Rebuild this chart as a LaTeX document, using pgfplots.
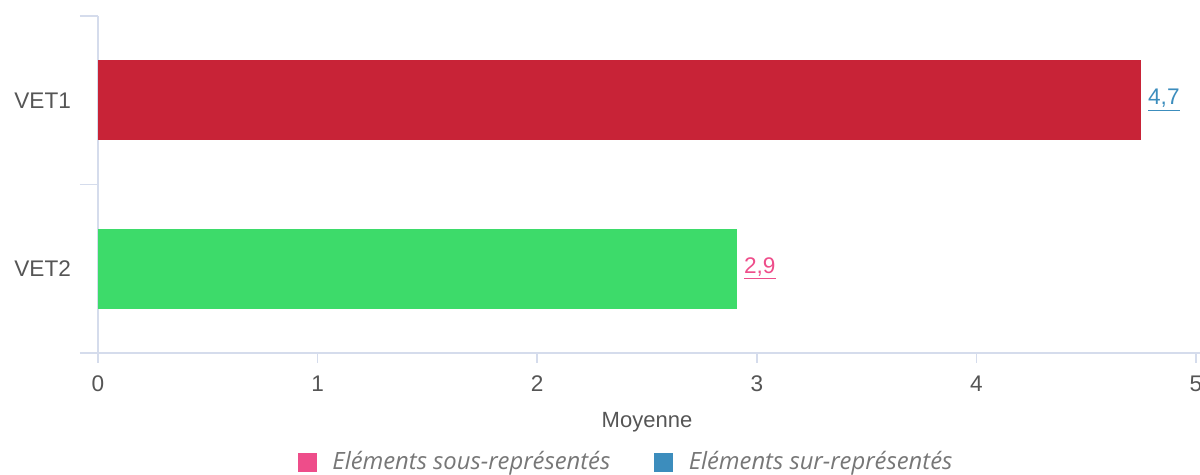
\documentclass[border=0pt]{standalone}
\usepackage{pgfplots}
\pgfplotsset{compat=1.18}
\usepackage{fontspec}
\setmainfont{Liberation Sans}
\newfontfamily\legfont{Open Sans}
\definecolor{axcol}{HTML}{D5DCEC}
\definecolor{txtcol}{HTML}{555555}
\definecolor{barred}{HTML}{C82337}
\definecolor{bargreen}{HTML}{3DDB6A}
\definecolor{pinkc}{HTML}{EE4D8A}
\definecolor{bluec}{HTML}{3C8DBD}
\begin{document}
\begin{tikzpicture}
\begin{axis}[
  scale only axis, width=549pt, height=168.5pt,
  xmin=0, xmax=5, ymin=0, ymax=2,
  clip=false,
  axis line style={draw=none},
  xbar, bar width=0.475, bar shift=0pt,
  xtick={0,1,2,3,4,5}, xtick pos=bottom, tick align=outside,
  major tick length=5pt,
  xtick style={axcol, line width=0.8pt},
  ytick={0.5,1.5}, yticklabels={VET2,VET1},
  ytick style={draw=none},
  /pgf/number format/assume math mode=true,
  tick label style={font=\fontsize{11.3}{13}\selectfont, text=txtcol},
  xticklabel style={yshift=-3pt},
  yticklabel style={xshift=-5pt},
  legend style={at={(0.482,-0.3234)}, anchor=center, draw=none, legend columns=2,
    font=\legfont\itshape\fontsize{11.9}{14}\selectfont, text=txtcol!80,
    /tikz/every even column/.append style={column sep=20pt}},
  legend cell align=left,
]
\draw[axcol, line width=0.8pt] (axis cs:-0.082,0) -- (axis cs:5.018,0);
\draw[axcol, line width=0.8pt] (axis cs:0,0) -- (axis cs:0,2);
\draw[axcol, line width=0.8pt] (axis cs:-0.082,1) -- (axis cs:0,1);
\draw[axcol, line width=0.8pt] (axis cs:-0.082,2) -- (axis cs:0,2);
\addlegendimage{legend image code/.code={\fill[pinkc] (0pt,-4.5pt) rectangle (9pt,4.5pt); \path[draw=none, fill=none] (0pt,0pt) -- (15pt,0pt);}}
\addlegendentry{Eléments sous-représentés}
\addlegendimage{legend image code/.code={\fill[bluec] (0pt,-4.5pt) rectangle (9pt,4.5pt); \path[draw=none, fill=none] (0pt,0pt) -- (15pt,0pt);}}
\addlegendentry{Eléments sur-représentés}
\addplot[fill=barred, draw=none, forget plot,
  nodes near coords={\underline{4,7}},
  every node near coord/.append style={anchor=west, xshift=0pt, text=bluec, font=\fontsize{11.3}{13}\selectfont}]
  coordinates {(4.75,1.5)};
\addplot[fill=bargreen, draw=none, forget plot,
  nodes near coords={\underline{2,9}},
  every node near coord/.append style={anchor=west, xshift=0pt, text=pinkc, font=\fontsize{11.3}{13}\selectfont}]
  coordinates {(2.91,0.5)};
\node[text=txtcol, font=\fontsize{11}{13}\selectfont] at (axis cs:2.5,-0.41) {Moyenne};
\end{axis}
\pgfresetboundingbox
\path[use as bounding box] ([shift={(-49pt,-61pt)}]current axis.south west) rectangle ([shift={(551pt,176.5pt)}]current axis.south west);
\end{tikzpicture}
\end{document}
